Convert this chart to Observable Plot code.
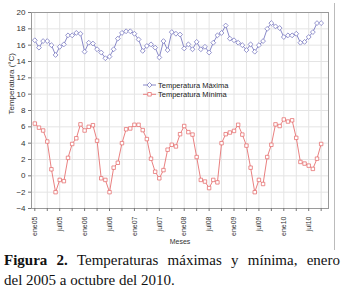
<!DOCTYPE html>
<html>
<head>
<meta charset="utf-8">
<script src="https://cdn.jsdelivr.net/npm/d3@7"></script>
<script src="https://cdn.jsdelivr.net/npm/@observablehq/plot@0.6"></script>
<style>
  html, body { margin: 0; padding: 0; background: #fff; }
  #wrap { position: relative; width: 345px; height: 297px; overflow: hidden; }
  #outer { position: absolute; left: 334px; top: 3px; width: 0; height: 247px; border-right: 1px solid #bbb; }
  .cap { font-family: "Liberation Serif", "Times New Roman", serif; font-size: 15px; line-height: 20px; color: #111; margin-left: 4px; width: 336px; }
  .l1 { text-align: justify; text-align-last: justify; }
</style>
</head>
<body>
<div id="wrap">
  <div id="chart"></div>
  <div id="outer"></div>
  <div class="cap l1"><b>Figura 2.</b> Temperaturas máximas y mínima, enero</div>
  <div class="cap">del 2005 a octubre del 2010.</div>
</div>
<script>
// Monthly values, January 2005 to October 2010 (70 months)
const tempMax = [
  16.6, 15.7, 16.5, 16.5, 16.0, 14.8, 15.8, 16.1, 17.2, 17.2, 17.5, 17.4,
  15.2, 16.3, 16.2, 15.5, 15.1, 14.4, 14.6, 15.5, 16.8, 17.5, 17.7, 17.7,
  17.4, 16.7, 15.3, 15.9, 16.1, 15.7, 14.5, 16.5, 15.4, 17.6, 17.4, 17.3,
  15.6, 16.1, 15.5, 16.4, 15.5, 15.8, 15.1, 16.3, 17.2, 17.5, 18.4, 16.8,
  16.6, 16.3, 16.0, 15.4, 16.1, 15.2, 16.0, 16.5, 18.0, 18.7, 18.3, 18.1,
  17.0, 17.2, 17.2, 17.4, 16.3, 16.4, 17.0, 17.6, 18.7, 18.7
];
const tempMin = [
  6.4, 5.9, 5.55, 4.2, 0.8, -2.0, -0.5, -0.65, 2.2, 3.9, 4.6, 6.3,
  5.55, 6.0, 6.2, 4.3, -0.3, -0.5, -2.0, 1.0, 1.6, 4.0, 5.7, 5.8,
  6.25, 6.25, 5.6, 4.5, 2.1, 0.5, -0.3, 0.7, 3.2, 3.8, 3.6, 5.1,
  6.1, 5.35, 5.05, 2.3, -0.5, -0.7, -1.5, -0.5, -0.8, 4.0, 5.1, 5.3,
  5.5, 6.25, 5.05, 3.7, 1.0, -2.0, -0.5, -1.0, 2.3, 3.8, 6.3, 6.1,
  6.9, 6.65, 6.8, 4.65, 1.7, 1.5, 1.25, 0.85, 2.1, 3.9
];
const tickLabels = ["ene05","jul05","ene06","jul06","ene07","jul07","ene08","jul08","ene09","jul09","ene10","jul10"];
const yTicks = [-4, -2, 0, 2, 4, 6, 8, 10, 12, 14, 16, 18, 20];
const seriesNames = ["Temperatura Máxima", "Temperatura Mínima"];
const seriesColors = ["#7c7cc2", "#e67272"];
const seriesSymbols = ["diamond2", "square2"];

const rows = [];
tempMax.forEach((v, i) => rows.push({i, v, s: seriesNames[0]}));
tempMin.forEach((v, i) => rows.push({i, v, s: seriesNames[1]}));
const gridIdx = d3.range(0, tempMax.length, 3);
const labelIdx = d3.range(0, tempMax.length, 6);

const font = "'Liberation Sans', Arial, sans-serif";
const chart = Plot.plot({
  width: 345,
  height: 250,
  marginLeft: 31,
  marginRight: 17,
  marginTop: 12,
  marginBottom: 42,
  style: {fontFamily: font, fontSize: "8px", color: "#333", background: "transparent"},
  x: {domain: [-0.8, 70.77], axis: null},
  y: {domain: [-4, 20], axis: null},
  color: {domain: seriesNames, range: seriesColors},
  symbol: {domain: seriesNames, range: seriesSymbols},
  marks: [
    Plot.gridX(gridIdx, {stroke: "#e4e4e4", strokeOpacity: 1}),
    Plot.gridY(yTicks, {stroke: "#e4e4e4", strokeOpacity: 1}),
    Plot.frame({stroke: "#9a9a9a"}),
    Plot.axisY(yTicks, {tickSize: 3, tickPadding: 3, fontSize: 8, stroke: "#777", label: null}),
    Plot.axisX(gridIdx, {tickSize: 3, tickFormat: () => "", stroke: "#777", label: null}),
    Plot.text(labelIdx, {x: d => d, text: d => tickLabels[d / 6], frameAnchor: "bottom", rotate: -90, textAnchor: "end", lineAnchor: "middle", dy: 8, fontSize: 7, fill: "#333"}),
    Plot.text(["Meses"], {frameAnchor: "bottom", dy: 35, fontSize: 7, fill: "#333"}),
    Plot.text(["Temperatura (°C)"], {frameAnchor: "left", dx: -20, dy: 4, rotate: -90, fontSize: 8, fill: "#333"}),
    Plot.line(rows, {x: "i", y: "v", z: "s", stroke: "s", strokeWidth: 0.9}),
    Plot.dot(rows, {x: "i", y: "v", stroke: "s", symbol: "s", r: 2.2, fill: "white", strokeWidth: 0.8})
  ]
});
document.getElementById("chart").appendChild(chart);

// In-plot legend
const svg = d3.select(chart);
const lg = svg.append("g").attr("font-family", font).attr("font-size", 7.5).attr("fill", "#222").attr("text-anchor", "start");
seriesNames.forEach((name, k) => {
  const y = 85 + k * 9.3;
  const g = lg.append("g");
  g.append("line").attr("x1", 143).attr("x2", 156).attr("y1", y).attr("y2", y)
    .attr("stroke", seriesColors[k]).attr("stroke-width", 0.9);
  const sym = k === 0 ? d3.symbolDiamond2 : d3.symbolSquare2;
  g.append("path").attr("d", d3.symbol(sym, 16)()).attr("transform", `translate(149.5,${y})`)
    .attr("stroke", seriesColors[k]).attr("fill", "white").attr("stroke-width", 0.8);
  g.append("text").attr("x", 158).attr("y", y).attr("dy", "0.35em").attr("text-anchor", "start").text(name);
});
</script>
</body>
</html>
